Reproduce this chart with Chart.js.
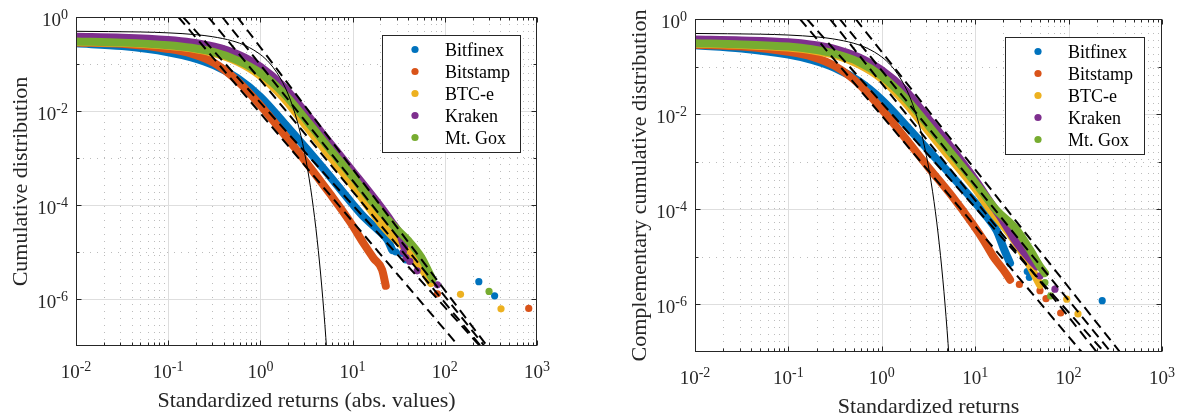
<!DOCTYPE html>
<html><head><meta charset="utf-8">
<script src="https://cdn.jsdelivr.net/npm/chart.js@4.4.1/dist/chart.umd.min.js"></script>
<style>
html,body{margin:0;padding:0;background:#fff;}
#wrap{position:relative;width:1182px;height:416px;background:#fff;}
canvas{position:absolute;top:0;}
</style></head><body>
<div id="wrap">
<canvas id="c1" width="591" height="416" style="left:0px"></canvas>
<canvas id="c2" width="591" height="416" style="left:591px"></canvas>
</div>
<script>
// ---------- categories / labels ----------
const exchanges = ['Bitfinex','Bitstamp','BTC-e','Kraken','Mt. Gox'];
const colors    = ['#0072BD','#D95319','#EDB120','#7E2F8E','#77AC30'];
const drawOrder = [5,4,3,2,1];            // Mt. Gox on top, Bitfinex at bottom
const xTickValues = [0.01,0.1,1,10,100,1000];
const xTickExp    = ['-2','-1','0','1','2','3'];
const yTickValues = [1,1e-2,1e-4,1e-6];
const yTickExp    = ['0','-2','-4','-6'];
const yMinorValues = [1e-1,1e-3,1e-5];
const xRange = [0.01,1000];
const yRange = [1e-7,1];

// ---------- Gaussian reference (thin solid line) ----------
const gaussX = [0.01,0.05,0.1,0.2,0.3,0.5,0.7,1,1.25,1.5,1.75,2,2.25,2.5,2.75,3,3.25,3.5,3.75,4,4.25,4.5,4.75,5,5.25,5.5];
const gaussY = [0.496,0.480,0.460,0.421,0.382,0.309,0.242,0.159,0.106,0.0668,0.0401,0.0228,0.0122,0.00621,0.00298,0.00135,5.77e-4,2.33e-4,8.84e-5,3.17e-5,1.07e-5,3.40e-6,1.02e-6,2.87e-7,7.6e-8,1.9e-8];

// ---------- Left panel: dense bands [x, y] ----------
const bitfinexBandL = [[0.01,0.275],[0.0316,0.240],[0.1,0.178],[0.178,0.138],[0.316,0.0933],[0.562,0.0501],[1,0.0200],[1.78,0.00575],[3.16,0.00158],[5.62,4.17e-4],[10,1.05e-4],[13.2,5.62e-5],[18.6,3.02e-5],[24.0,1.78e-5],[26.9,1.10e-5]];
const bitstampBandL = [[0.01,0.288],[0.0316,0.269],[0.1,0.209],[0.178,0.166],[0.316,0.105],[0.562,0.0437],[1,0.0132],[1.78,0.00331],[3.16,7.94e-4],[5.62,1.78e-4],[9.55,4.17e-5],[13.2,1.51e-5],[17.0,7.24e-6],[20.9,4.17e-6],[22.9,1.91e-6]];
const btceBandL     = [[0.01,0.295],[0.0316,0.279],[0.1,0.245],[0.178,0.216],[0.316,0.170],[0.562,0.112],[1,0.0562],[1.78,0.0191],[3.16,0.00468],[5.62,0.00112],[10,2.63e-4],[14.1,1.05e-4],[20.0,4.17e-5],[28.2,2.0e-5],[39.8,1.05e-5],[56.2,4.47e-6],[70.8,2.19e-6]];
const krakenBandL   = [[0.01,0.380],[0.0316,0.363],[0.1,0.324],[0.178,0.288],[0.316,0.234],[0.562,0.162],[1,0.0871],[1.78,0.0331],[3.16,0.00871],[5.62,0.00214],[10,5.25e-4],[17.8,1.26e-4],[26.3,4.47e-5],[33.1,2.24e-5],[36.3,1.32e-5]];
const mtgoxBandL    = [[0.01,0.302],[0.0316,0.285],[0.1,0.251],[0.178,0.221],[0.316,0.178],[0.562,0.120],[1,0.0646],[1.78,0.0240],[3.16,0.00631],[5.62,0.00158],[10,3.98e-4],[15.8,1.26e-4],[28.2,3.47e-5],[39.8,1.78e-5],[55.0,7.94e-6],[70.8,3.02e-6]];
// ---------- Left panel: isolated tail points ----------
const bitfinexDotsL = [[29.5,1e-5],[34.7,9.33e-6],[37.7,6.76e-6],[234,2.34e-6],[347,1.17e-6]];
const bitstampDotsL = [[83.2,1.29e-6],[813,6.31e-7]];
const btceDotsL     = [[148,1.26e-6],[407,6.17e-7]];
const krakenDotsL   = [[35.5,1e-5],[38.0,7.59e-6],[41.7,6.31e-6],[50.1,3.98e-6],[83.2,2.0e-6]];
const mtgoxDotsL    = [[74,2.6e-6],[302,1.45e-6]];
// ---------- Left panel: power-law fits (x at y=1 and at y=1e-7) ----------
const fitTopL    = [0.129,0.145,0.272,0.386,0.562];
const fitBottomL = [141,240,245,269,288];

// ---------- Right panel: dense bands ----------
const bitfinexBandR = [[0.01,0.282],[0.0316,0.240],[0.1,0.178],[0.178,0.138],[0.316,0.0933],[0.562,0.0501],[1,0.0200],[1.78,0.00603],[3.16,0.00174],[5.62,5.01e-4],[10,1.38e-4],[13.2,7.08e-5],[17.0,3.55e-5],[20.0,1.58e-5],[23.6,7.41e-6]];
const bitstampBandR = [[0.01,0.288],[0.0316,0.263],[0.1,0.204],[0.178,0.162],[0.316,0.102],[0.562,0.0437],[1,0.0126],[1.78,0.00316],[3.16,7.59e-4],[5.62,1.91e-4],[9.55,4.68e-5],[12.2,2.29e-5],[15.6,1.02e-5],[20.0,5.37e-6],[23.6,3.31e-6]];
const btceBandR     = [[0.01,0.302],[0.0316,0.285],[0.1,0.251],[0.178,0.221],[0.316,0.174],[0.562,0.112],[1,0.0550],[1.78,0.0174],[3.16,0.00437],[5.62,0.00110],[10,2.75e-4],[14.1,1.05e-4],[25.1,2.51e-5],[35.5,8.71e-6],[49.4,2.57e-6]];
const krakenBandR   = [[0.01,0.372],[0.0316,0.355],[0.1,0.324],[0.178,0.288],[0.316,0.234],[0.562,0.158],[1,0.0832],[1.78,0.0316],[3.16,0.00794],[5.62,0.00191],[10,4.17e-4],[14.5,1.41e-4],[20.0,5.62e-5],[27.8,2.0e-5],[39.8,8.32e-6],[45.6,6.31e-6]];
const mtgoxBandR    = [[0.01,0.309],[0.0316,0.292],[0.1,0.263],[0.178,0.232],[0.316,0.186],[0.562,0.126],[1,0.0631],[1.78,0.0219],[3.16,0.00575],[5.62,0.00145],[10,3.63e-4],[16.6,1e-4],[27.8,3.72e-5],[38.6,1.41e-5],[49.4,6.31e-6],[55.8,4.57e-6]];
// ---------- Right panel: isolated tail points ----------
const bitfinexDotsR = [[36.1,4.9e-6],[38.0,3.72e-6],[229,1.20e-6]];
const bitstampDotsR = [[29.7,2.63e-6],[49.4,1.95e-6],[57.3,1.32e-6],[82.2,6.61e-7]];
const btceDotsR     = [[95.5,1.29e-6],[126,6.31e-7]];
const krakenDotsR   = [[49.4,3.98e-6],[71.4,2.09e-6]];
const mtgoxDotsR    = [[55.8,2.88e-6],[64.3,1.51e-6]];
// ---------- Right panel: power-law fits ----------
const fitTopR    = [0.133,0.158,0.279,0.355,0.525];
const fitBottomR = [138,240,200,282,355];

// ---------- helpers ----------
const SERIF = '"Liberation Serif","Times New Roman",serif';
const pts = arr => arr.map(p => ({x:p[0], y:p[1]}));
function bandDs(arr,i){ return {label:exchanges[i]+' band', data:pts(arr), showLine:true, borderColor:colors[i], backgroundColor:colors[i], borderWidth:8, pointRadius:0, cubicInterpolationMode:'monotone', borderCapStyle:'round', borderJoinStyle:'round', clip:0, order:drawOrder[i]}; }
function dotsDs(arr,i){ return {label:exchanges[i], data:pts(arr), showLine:false, pointRadius:3.6, pointBackgroundColor:colors[i], pointBorderWidth:0, backgroundColor:colors[i], borderColor:colors[i], clip:0, order:drawOrder[i]}; }
function fitDs(top,bottom){ return {label:'fit', data:[{x:top,y:yRange[1]},{x:bottom,y:yRange[0]}], showLine:true, borderColor:'#000', borderWidth:2, borderDash:[10,6], pointRadius:0, clip:0, order:0}; }
function gaussDs(){ return {label:'Gaussian', data:gaussX.map((x,k)=>({x, y:gaussY[k]})), showLine:true, borderColor:'#000', borderWidth:1, pointRadius:0, cubicInterpolationMode:'monotone', clip:0, order:0}; }

function powLabel(ctx, exp, x, yBase, align){
  ctx.font = '19px '+SERIF; const w1 = ctx.measureText('10').width;
  ctx.font = '14px '+SERIF; const w2 = ctx.measureText(exp).width;
  const w = w1 + w2;
  const sx = align === 'center' ? x - w/2 : x - w;
  ctx.textAlign = 'left'; ctx.textBaseline = 'alphabetic';
  ctx.font = '19px '+SERIF; ctx.fillText('10', sx, yBase);
  ctx.font = '14px '+SERIF; ctx.fillText(exp, sx + w1, yBase - 7);
}

function framePlugin(cfg){
  return {
    id:'frame',
    beforeDatasetsDraw(chart){
      const {ctx, chartArea:a, scales:{x, y}} = chart;
      ctx.save();
      ctx.beginPath(); ctx.rect(a.left, a.top, a.right-a.left, a.bottom-a.top); ctx.clip();
      ctx.lineWidth = 1;
      ctx.strokeStyle = '#bcbcbc'; ctx.setLineDash([1,6]);
      for (let e = -2; e < 3; e++) for (let m = 2; m <= 9; m++) {
        const px = Math.round(x.getPixelForValue(m * Math.pow(10, e))) + 0.5;
        ctx.beginPath(); ctx.moveTo(px, a.top); ctx.lineTo(px, a.bottom); ctx.stroke();
      }
      yMinorValues.forEach(v => {
        const py = Math.round(y.getPixelForValue(v)) + 0.5;
        ctx.beginPath(); ctx.moveTo(a.left, py); ctx.lineTo(a.right, py); ctx.stroke();
      });
      ctx.setLineDash([]); ctx.strokeStyle = '#dedede';
      xTickValues.forEach(v => {
        const px = Math.round(x.getPixelForValue(v)) + 0.5;
        ctx.beginPath(); ctx.moveTo(px, a.top); ctx.lineTo(px, a.bottom); ctx.stroke();
      });
      yTickValues.forEach(v => {
        const py = Math.round(y.getPixelForValue(v)) + 0.5;
        ctx.beginPath(); ctx.moveTo(a.left, py); ctx.lineTo(a.right, py); ctx.stroke();
      });
      ctx.restore();
    },
    afterDatasetsDraw(chart){
      const {ctx, chartArea:a, scales:{x, y}} = chart;
      ctx.save();
      const L = Math.round(a.left)+0.5, R = Math.round(a.right)-0.5, T = Math.round(a.top)+0.5, B = Math.round(a.bottom)-0.5;
      ctx.strokeStyle = '#262626'; ctx.lineWidth = 1; ctx.setLineDash([]);
      const tick = (x1,y1,x2,y2) => { ctx.beginPath(); ctx.moveTo(x1,y1); ctx.lineTo(x2,y2); ctx.stroke(); };
      for (let e = -2; e < 3; e++) for (let m = 2; m <= 9; m++) {
        const px = Math.round(x.getPixelForValue(m * Math.pow(10, e))) + 0.5;
        tick(px, B, px, B-3); tick(px, T, px, T+3);
      }
      xTickValues.forEach(v => { const px = Math.round(x.getPixelForValue(v)) + 0.5; tick(px, B, px, B-5); tick(px, T, px, T+5); });
      yTickValues.forEach(v => { const py = Math.round(y.getPixelForValue(v)) + 0.5; tick(L, py, L+5, py); tick(R, py, R-5, py); });
      yMinorValues.forEach(v => { const py = Math.round(y.getPixelForValue(v)) + 0.5; tick(L, py, L+3, py); tick(R, py, R-3, py); });
      ctx.strokeRect(L, T, R-L, B-T);
      ctx.fillStyle = '#262626';
      xTickValues.forEach((v,k) => powLabel(ctx, xTickExp[k], x.getPixelForValue(v), a.bottom + 32, 'center'));
      yTickValues.forEach((v,k) => powLabel(ctx, yTickExp[k], a.left - 8, y.getPixelForValue(v) + 9, 'right'));
      ctx.font = '22px '+SERIF; ctx.textAlign = 'center'; ctx.textBaseline = 'alphabetic';
      ctx.fillText(cfg.xTitle, (a.left + a.right)/2, a.bottom + 61);
      ctx.save();
      ctx.translate(a.left - 49, (a.top + a.bottom)/2);
      ctx.rotate(-Math.PI/2);
      ctx.fillText(cfg.yTitle, 0, 0);
      ctx.restore();
      const lg = cfg.legend;
      ctx.fillStyle = '#fff'; ctx.fillRect(lg.x, lg.y, lg.w, lg.h);
      ctx.strokeStyle = '#262626'; ctx.strokeRect(lg.x + 0.5, lg.y + 0.5, lg.w, lg.h);
      ctx.font = '18px '+SERIF; ctx.textAlign = 'left'; ctx.textBaseline = 'alphabetic';
      exchanges.forEach((name,k) => {
        const ry = lg.y + 14.5 + k*22;
        ctx.fillStyle = colors[k];
        ctx.beginPath(); ctx.arc(lg.x + 33, ry, 3.6, 0, Math.PI*2); ctx.fill();
        ctx.fillStyle = '#000';
        ctx.fillText(name, lg.x + 63, ry + 6);
      });
      ctx.restore();
    }
  };
}

function makeChart(id, bands, dots, tops, bottoms, pad, cfg){
  const datasets = [];
  for (let i = 0; i < 5; i++) { datasets.push(bandDs(bands[i], i)); datasets.push(dotsDs(dots[i], i)); }
  for (let k = 0; k < tops.length; k++) datasets.push(fitDs(tops[k], bottoms[k]));
  datasets.push(gaussDs());
  return new Chart(document.getElementById(id), {
    type:'scatter',
    data:{datasets},
    options:{
      responsive:false, animation:false, devicePixelRatio:1, events:[],
      layout:{padding:pad},
      plugins:{legend:{display:false}, tooltip:{enabled:false}},
      scales:{
        x:{type:'logarithmic', display:false, min:xRange[0], max:xRange[1]},
        y:{type:'logarithmic', display:false, min:yRange[0], max:yRange[1]}
      }
    },
    plugins:[framePlugin(cfg)]
  });
}

makeChart('c1',
  [bitfinexBandL,bitstampBandL,btceBandL,krakenBandL,mtgoxBandL],
  [bitfinexDotsL,bitstampDotsL,btceDotsL,krakenDotsL,mtgoxDotsL],
  fitTopL, fitBottomL,
  {left:76, top:17, right:54, bottom:70},
  {xTitle:'Standardized returns (abs. values)', yTitle:'Cumulative distribution', legend:{x:382, y:35, w:138, h:117}});

makeChart('c2',
  [bitfinexBandR,bitstampBandR,btceBandR,krakenBandR,mtgoxBandR],
  [bitfinexDotsR,bitstampDotsR,btceDotsR,krakenDotsR,mtgoxDotsR],
  fitTopR, fitBottomR,
  {left:104, top:19, right:20, bottom:64},
  {xTitle:'Standardized returns', yTitle:'Complementary cumulative distribution', legend:{x:414, y:37, w:139, h:117}});
</script>
</body></html>
